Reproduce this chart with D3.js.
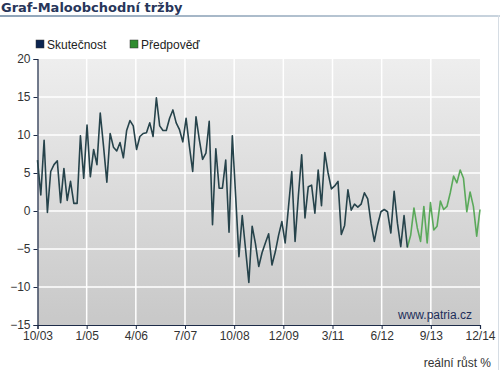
<!DOCTYPE html>
<html>
<head>
  <script src="https://cdn.jsdelivr.net/npm/d3@7/dist/d3.min.js"></script>
  <title>Graf-Maloobchodní tržby</title>
  <style>
    body { margin: 0; background: #fff; }
    text { font-family: "Liberation Sans", Arial, sans-serif; }
    .title { font-family: "DejaVu Sans", Verdana, sans-serif; font-weight: bold; font-size: 13px; fill: #28365a; }
  </style>
</head>
<body>
<svg id="chart" width="500" height="370"></svg>
<script>
  // tick labels on the x axis (10/2003 .. 12/2014, monthly data)
  var xLabels = ["10/03", "1/05", "4/06", "7/07", "10/08", "12/09", "3/11", "6/12", "9/13", "12/14"];
  var yTicks = [-15, -10, -5, 0, 5, 10, 15, 20];

  // skutečnost, month index 0 = 10/03
  var actual = [
    6.7, 2.1, 9.3, -0.2, 5.2, 6.1, 6.6, 1.1, 5.6, 1.4,
    3.9, 1.0, 1.0, 9.9, 4.3, 11.3, 4.5, 8.1, 6.1, 12.9,
    8.5, 3.8, 10.2, 8.4, 7.9, 9.0, 7.0, 10.6, 11.9, 11.2,
    8.1, 9.8, 10.2, 10.3, 11.6, 9.8, 14.9, 11.2, 10.6, 10.6,
    12.2, 13.3, 11.6, 10.7, 9.1, 12.2, 8.5, 5.2, 12.4, 9.4,
    6.8, 7.6, 11.8, -1.8, 8.2, 3.0, 3.0, 6.7, -2.8, 9.9,
    2.0, -6.0, -0.6, -5.0, -9.4, -2.0, -4.3, -7.3, -5.5, -4.2,
    -3.0, -7.1, -5.4, -3.2, -1.4, -4.2, 0.5, 5.2, -4.0, 2.0,
    7.4, -0.9, 3.2, 3.4, -0.3, 5.4, 0.7, 7.7, 5.0, 2.9,
    3.3, 3.9, -3.1, -1.9, 2.8, 0.1, 0.9, 0.5, 0.9, 2.4,
    1.6, -1.6, -4.0, -1.8, -0.1, 0.2, -0.1, -2.9, 2.6, -1.6,
    -4.7, -0.6, -4.8
  ];
  // předpověď, continues after the last actual month
  var forecast = [
    -3.2, 0.4, -2.2, -4.0, 0.6, -4.2, 1.1, -2.5, -2.0, 1.3,
    0.2, 0.6, 2.4, 4.6, 3.7, 5.4, 4.3, -0.1, 2.5, 0.6,
    -3.3, 0.2
  ];

  var nMonths = actual.length + forecast.length - 1;

  var svg = d3.select("#chart");
  var pLeft = 37.5, pRight = 480, pTop = 59, pBottom = 325;

  var x = d3.scaleLinear().domain([0, nMonths]).range([pLeft, pRight]);
  var y = d3.scaleLinear().domain([-15, 20]).range([pBottom, pTop]);

  // title + underline
  var defs = svg.append("defs");
  var ug = defs.append("linearGradient").attr("id", "uline");
  ug.append("stop").attr("offset", "0%").attr("stop-color", "#8ea3b8");
  ug.append("stop").attr("offset", "100%").attr("stop-color", "#c9d4de");
  svg.append("rect").attr("x", 0).attr("y", 15).attr("width", 500).attr("height", 2).attr("fill", "url(#uline)");
  svg.append("text").attr("class", "title").attr("x", 1).attr("y", 12).text("Graf-Maloobchodní tržby");
  svg.append("rect").attr("x", 498).attr("y", 15).attr("width", 1).attr("height", 355).attr("fill", "#d6dde4");

  // plot background
  var bg = defs.append("linearGradient").attr("id", "bg")
    .attr("x1", 0).attr("x2", 0).attr("y1", 0).attr("y2", 1);
  bg.append("stop").attr("offset", "0%").attr("stop-color", "#eeeeee");
  bg.append("stop").attr("offset", "100%").attr("stop-color", "#c8c8c8");
  svg.append("rect").attr("x", pLeft).attr("y", pTop).attr("width", pRight - pLeft).attr("height", pBottom - pTop)
    .attr("fill", "url(#bg)");

  var xTickVals = xLabels.map(function(d, i) { return i * nMonths / (xLabels.length - 1); });

  // grid
  svg.append("g").selectAll("line").data(yTicks.filter(function(d) { return d > -15 && d < 20; }))
    .join("line")
    .attr("x1", pLeft).attr("x2", pRight)
    .attr("y1", function(d) { return y(d); }).attr("y2", function(d) { return y(d); })
    .attr("stroke", "#fff").attr("stroke-width", 1.5);
  svg.append("g").selectAll("line").data(xTickVals.slice(1, -1))
    .join("line")
    .attr("y1", pTop).attr("y2", pBottom)
    .attr("x1", function(d) { return x(d); }).attr("x2", function(d) { return x(d); })
    .attr("stroke", "#fff").attr("stroke-width", 1.5);

  // axes
  var yAxis = svg.append("g").attr("transform", "translate(" + pLeft + ",0)")
    .call(d3.axisLeft(y).tickValues(yTicks).tickSize(4).tickPadding(3));
  var xAxis = svg.append("g").attr("transform", "translate(0," + pBottom + ")")
    .call(d3.axisBottom(x).tickValues(xTickVals).tickSize(4).tickPadding(2)
      .tickFormat(function(d, i) { return xLabels[i]; }));
  [yAxis, xAxis].forEach(function(a) {
    a.select(".domain").attr("stroke", "#1d2b48").attr("stroke-width", 1.2);
    a.selectAll(".tick line").attr("stroke", "#1d2b48");
    a.selectAll(".tick text").attr("fill", "#333").style("font-size", "12px")
      .style("font-family", "'Liberation Sans', Arial, sans-serif");
  });

  // lines
  var line = d3.line().x(function(d) { return x(d[0]); }).y(function(d) { return y(d[1]); });
  var fcPts = [[actual.length - 1, actual[actual.length - 1]]].concat(
    forecast.map(function(v, i) { return [actual.length + i, v]; }));
  svg.append("path").datum(fcPts).attr("d", line)
    .attr("fill", "none").attr("stroke", "#5aa95a").attr("stroke-width", 1.6).attr("stroke-linejoin", "round");
  svg.append("path").datum(actual.map(function(v, i) { return [i, v]; })).attr("d", line)
    .attr("fill", "none").attr("stroke", "#26434b").attr("stroke-width", 1.6).attr("stroke-linejoin", "round");

  // legend
  var legend = [["Skutečnost", "#0b2450", 36], ["Předpověď", "#2e8b2e", 130]];
  legend.forEach(function(l) {
    svg.append("rect").attr("x", l[2]).attr("y", 40).attr("width", 8).attr("height", 8)
      .attr("fill", l[1]).attr("stroke", "#333").attr("stroke-width", 0.5);
    svg.append("text").attr("x", l[2] + 11).attr("y", 49).attr("fill", "#222")
      .style("font-size", "12px").text(l[0]);
  });

  svg.append("text").attr("x", 472).attr("y", 319).attr("text-anchor", "end")
    .attr("fill", "#1d2e5a").style("font-size", "12px").text("www.patria.cz");
  svg.append("text").attr("x", 491).attr("y", 367).attr("text-anchor", "end")
    .attr("fill", "#333").style("font-size", "12px").text("reální růst %");
</script>
</body>
</html>
